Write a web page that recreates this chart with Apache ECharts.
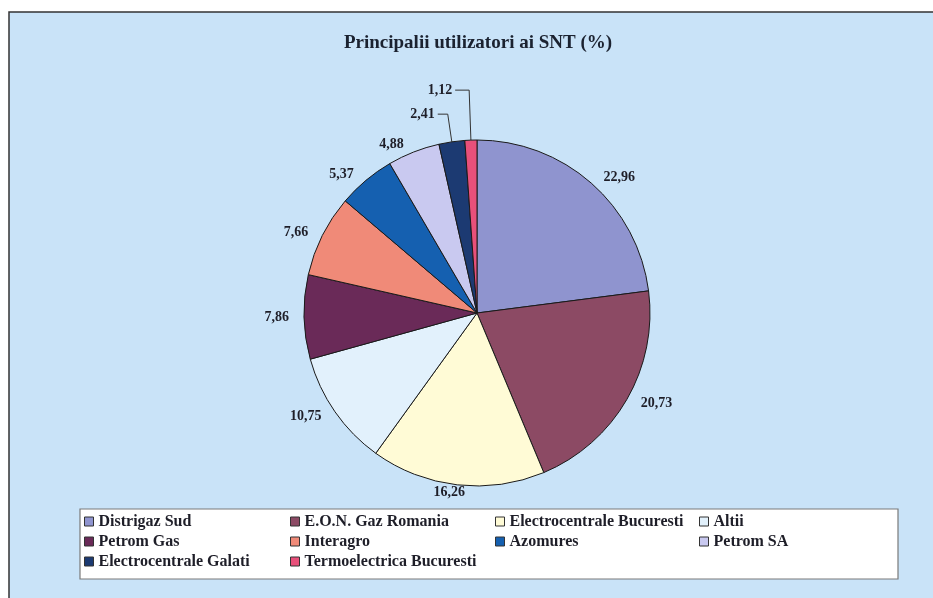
<!DOCTYPE html>
<html>
<head>
<meta charset="utf-8">
<script src="https://cdn.jsdelivr.net/npm/echarts@6/dist/echarts.min.js"></script>
<style>
  html, body { margin: 0; padding: 0; background: #ffffff; }
  #chart { width: 933px; height: 598px; }
</style>
</head>
<body>
<div id="chart"></div>
<script>
// ---- Data ----
const titleText = 'Principalii utilizatori ai SNT (%)';
const categories = [
  'Distrigaz Sud',
  'E.O.N. Gaz Romania',
  'Electrocentrale Bucuresti',
  'Altii',
  'Petrom Gas',
  'Interagro',
  'Azomures',
  'Petrom SA',
  'Electrocentrale Galati',
  'Termoelectrica Bucuresti'
];
const values = [22.96, 20.73, 16.26, 10.75, 7.86, 7.66, 5.37, 4.88, 2.41, 1.12];
const colors = ['#8f94cf', '#8c4a64', '#fffbd6', '#e2f1fc', '#6a2a58', '#f08a78', '#1560b0', '#c9c9f0', '#1c3a72', '#e8507a'];
const legendColumns = [
  ['Distrigaz Sud', 'Petrom Gas', 'Electrocentrale Galati'],
  ['E.O.N. Gaz Romania', 'Interagro', 'Termoelectrica Bucuresti'],
  ['Electrocentrale Bucuresti', 'Azomures'],
  ['Altii', 'Petrom SA']
];

// ---- Derived helpers ----
const total = values.reduce((a, b) => a + b, 0);
const midSin = [];
let acc = 0;
values.forEach(v => {
  const mid = (acc + v / 2) / total * 2 * Math.PI;
  midSin.push(Math.sin(mid));
  acc += v;
});
const leaderCount = 2; // the two smallest slices get leader lines
const leaderIdx = values.length - leaderCount;

const pieData = categories.map((name, i) => {
  const item = { name: name, value: values[i] };
  if (i === values.length - 1) {
    item.labelLine = { show: true, length: 50, length2: 14 };
  } else if (i === values.length - 2) {
    item.labelLine = { show: true, length: 28, length2: 10 };
  }
  return item;
});

const serifFont = '"Liberation Serif", "DejaVu Serif", serif';
const legendX = [84, 290, 495, 699];

const chart = echarts.init(document.getElementById('chart'), null, { renderer: 'canvas' });
chart.setOption({
  animation: false,
  backgroundColor: '#ffffff',
  color: colors,
  graphic: [
    {
      type: 'rect', z: -10, silent: true,
      shape: { x: 9, y: 12, width: 940, height: 600 },
      style: { fill: '#c9e3f8', stroke: '#333333', lineWidth: 1.5 }
    },
    {
      type: 'rect', z: -5, silent: true,
      shape: { x: 80, y: 509, width: 818, height: 70 },
      style: { fill: '#ffffff', stroke: '#7a7a7a', lineWidth: 1.2 }
    },
    {
      type: 'text', silent: true,
      x: 478, y: 43,
      style: {
        text: titleText, align: 'center', verticalAlign: 'middle',
        font: 'bold 19px ' + serifFont, fill: '#1b2230'
      }
    }
  ],
  legend: legendColumns.map((col, c) => ({
    data: col,
    orient: 'vertical',
    left: legendX[c],
    top: 513,
    padding: 0,
    itemGap: 3,
    itemWidth: 9,
    itemHeight: 9,
    icon: 'rect',
    selectedMode: false,
    itemStyle: { borderColor: '#333333', borderWidth: 1 },
    textStyle: {
      fontFamily: serifFont, fontWeight: 'bold', fontSize: 16,
      color: '#1e1e28', lineHeight: 17
    }
  })),
  series: [{
    type: 'pie',
    center: [477, 313],
    radius: 173,
    startAngle: 90,
    clockwise: true,
    avoidLabelOverlap: false,
    data: pieData,
    itemStyle: { borderColor: '#1a1a1a', borderWidth: 1 },
    emphasis: { disabled: true },
    label: {
      show: true,
      position: 'outside',
      distanceToLabelLine: 3,
      formatter: p => p.value.toFixed(2).replace('.', ','),
      fontFamily: serifFont,
      fontWeight: 'bold',
      fontSize: 14,
      color: '#1e1e28'
    },
    labelLine: {
      show: false,
      length: 8,
      length2: 4,
      lineStyle: { color: '#333333', width: 1 }
    },
    labelLayout: function (params) {
      const i = params.dataIndex;
      if (i < leaderIdx && Math.abs(midSin[i]) < 0.15) {
        return { align: 'center' };
      }
      return {};
    }
  }]
});
</script>
</body>
</html>
